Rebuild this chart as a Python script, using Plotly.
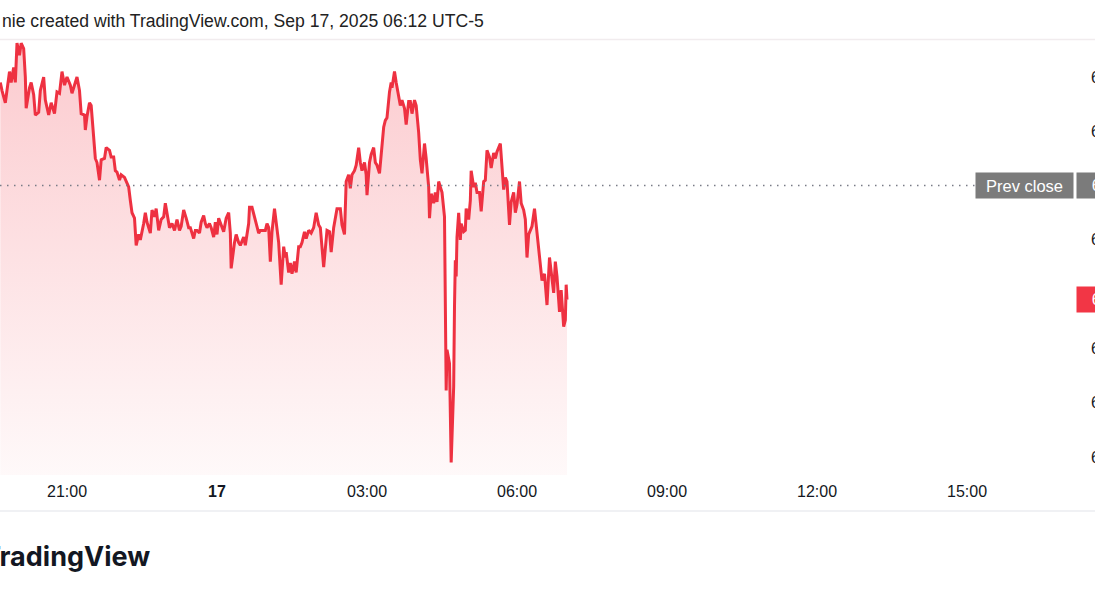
import pandas as pd
import plotly.graph_objects as go

# ---------------- data ----------------
session_start = "2025-09-16 19:40"
elapsed_min = [
    0, 2, 6, 8, 11, 13, 16, 18, 20, 23,
    25, 28, 30, 31, 35, 37, 40, 42, 46, 48,
    52, 54, 58, 61, 65, 68, 71, 74, 77, 80,
    84, 86, 89, 92, 95, 97, 101, 102, 104, 107,
    109, 112, 114, 116, 119, 121, 125, 127, 131, 133,
    136, 138, 140, 143, 145, 149, 151, 154, 156, 158,
    161, 163, 166, 168, 172, 174, 176, 180, 182, 185,
    187, 190, 193, 196, 198, 200, 203, 206, 209, 212,
    215, 217, 220, 223, 226, 228, 232, 234, 236, 239,
    241, 244, 246, 248, 251, 253, 256, 258, 260, 262,
    265, 268, 271, 274, 276, 277, 281, 283, 286, 288,
    292, 294, 298, 299, 302, 305, 307, 310, 312, 316,
    318, 320, 322, 324, 326, 329, 331, 334, 337, 340,
    342, 343, 346, 348, 350, 353, 355, 358, 360, 362,
    365, 367, 370, 373, 376, 379, 382, 384, 388, 390,
    392, 395, 397, 400, 402, 404, 408, 410, 413, 415,
    418, 420, 422, 425, 427, 430, 432, 434, 437, 439,
    440, 443, 445, 448, 450, 452, 455, 457, 460, 462,
    464, 467, 469, 470, 473, 475, 478, 480, 482, 485,
    487, 490, 492, 494, 497, 499, 502, 504, 506, 509,
    511, 514, 515, 517, 520, 522, 524, 526, 528, 530,
    533, 534, 535, 536, 539, 541, 544, 545, 546, 547,
    548, 550, 552, 553, 556, 558, 559, 562, 564, 565,
    568, 570, 572, 575, 577, 580, 582, 584, 587, 589,
    592, 594, 596, 600, 602, 604, 606, 608, 611, 613,
    616, 618, 620, 623, 625, 628, 630, 632, 634, 636,
    638, 641, 643, 646, 648, 650, 653, 655, 656, 659,
    661, 664, 666, 668, 671, 673, 676, 678, 679, 680,
]
prices = [
    6719.00, 6717.50, 6715.25, 6718.00, 6721.00, 6719.00, 6721.75, 6719.00, 6726.25, 6724.00,
    6726.25, 6725.25, 6720.00, 6714.25, 6718.00, 6719.00, 6716.75, 6713.00, 6713.50, 6717.50,
    6720.00, 6715.75, 6713.00, 6715.25, 6713.25, 6717.25, 6717.00, 6721.00, 6718.50, 6720.00,
    6718.50, 6717.00, 6718.75, 6720.00, 6717.50, 6713.25, 6713.00, 6710.25, 6712.75, 6715.25,
    6714.75, 6709.75, 6705.00, 6704.25, 6701.00, 6704.75, 6705.00, 6707.00, 6706.50, 6705.25,
    6705.25, 6702.75, 6702.50, 6701.00, 6702.00, 6701.50, 6700.75, 6699.75, 6697.25, 6695.00,
    6694.00, 6689.00, 6691.00, 6690.00, 6693.00, 6695.00, 6693.25, 6691.25, 6695.50, 6694.25,
    6695.75, 6691.75, 6693.75, 6694.25, 6696.75, 6695.00, 6692.25, 6693.00, 6691.75, 6693.75,
    6691.75, 6692.50, 6695.50, 6694.00, 6692.25, 6692.25, 6690.25, 6691.75, 6691.75, 6691.25,
    6693.25, 6694.50, 6693.00, 6692.25, 6693.00, 6692.25, 6690.50, 6693.25, 6691.00, 6694.00,
    6692.75, 6691.50, 6694.00, 6695.00, 6691.25, 6684.75, 6689.50, 6691.00, 6689.50, 6689.00,
    6690.50, 6689.00, 6693.00, 6696.00, 6696.00, 6694.00, 6693.25, 6691.25, 6691.75, 6691.75,
    6691.75, 6693.00, 6692.25, 6686.00, 6691.50, 6695.75, 6692.75, 6689.50, 6681.75, 6688.75,
    6686.75, 6687.75, 6684.00, 6685.75, 6683.75, 6686.00, 6684.00, 6688.75, 6688.75, 6689.50,
    6691.50, 6690.25, 6691.75, 6691.25, 6692.25, 6695.00, 6692.75, 6692.25, 6685.00, 6688.50,
    6691.75, 6691.50, 6687.75, 6692.25, 6694.50, 6695.75, 6695.75, 6692.75, 6691.00, 6700.75,
    6702.00, 6699.50, 6702.00, 6702.75, 6703.75, 6707.00, 6704.25, 6702.75, 6704.25, 6702.00,
    6698.25, 6704.25, 6705.75, 6707.00, 6704.25, 6703.75, 6702.25, 6706.25, 6710.75, 6712.00,
    6712.50, 6717.25, 6719.00, 6718.00, 6721.00, 6719.00, 6716.25, 6714.75, 6715.75, 6714.25,
    6711.25, 6715.50, 6715.50, 6713.25, 6715.75, 6714.75, 6709.75, 6704.75, 6702.25, 6707.75,
    6705.00, 6699.75, 6694.00, 6698.50, 6696.75, 6698.75, 6697.00, 6700.75, 6699.75, 6698.75,
    6694.25, 6675.25, 6662.25, 6669.75, 6667.25, 6649.00, 6663.00, 6677.75, 6686.25, 6683.25,
    6690.50, 6695.00, 6690.00, 6693.00, 6691.50, 6691.75, 6695.75, 6693.75, 6697.25, 6702.75,
    6699.75, 6700.50, 6698.75, 6698.75, 6695.25, 6700.75, 6701.00, 6706.50, 6705.25, 6703.25,
    6706.00, 6705.00, 6706.25, 6707.75, 6702.75, 6699.25, 6701.50, 6700.75, 6692.75, 6697.00,
    6698.75, 6695.00, 6696.50, 6700.75, 6696.75, 6695.50, 6693.75, 6686.75, 6691.00, 6691.75,
    6692.50, 6695.75, 6692.50, 6688.75, 6685.75, 6682.50, 6683.75, 6680.75, 6678.00, 6686.75,
    6684.50, 6680.25, 6686.00, 6683.25, 6676.75, 6680.75, 6674.00, 6675.25, 6681.75, 6679.00,
]
prev_close = 6700.00
price_ticks = [6650, 6660, 6670, 6690, 6710, 6720]
time_ticks = ["2025-09-16 21:00", "2025-09-17 00:00", "2025-09-17 03:00",
              "2025-09-17 06:00", "2025-09-17 09:00", "2025-09-17 12:00",
              "2025-09-17 15:00"]
time_labels = ["21:00", "<b>17</b>", "03:00", "06:00", "09:00", "12:00", "15:00"]
header_text = "nie created with TradingView.com, Sep 17, 2025 06:12 UTC-5"
footer_text = "TradingView"

# ---------------- layout constants ----------------
W, H = 1095, 600
ML, MR, MT, MB = 0, 20, 40, 125
PW = W - ML - MR          # plot width in px
PH = H - MT - MB          # plot height in px
Y_RANGE = [6646.69, 6726.82]
X_RANGE = ["2025-09-16 19:39:36", "2025-09-17 17:09:36"]
RED = "#f23645"
GREY = "#7b7b7b"
TXT = "#131722"
FONT = "Liberation Sans, Arial, sans-serif"

def px_x(p):
    return (p - ML) / PW

def px_y(p):
    return 1 - (p - MT) / PH

times = pd.Timestamp(session_start) + pd.to_timedelta(elapsed_min, unit="min")
last_price = prices[-1]

fig = go.Figure()
# baseline for gradient fill
fig.add_trace(go.Scatter(x=times, y=[Y_RANGE[0]] * len(times), mode="lines",
                         line=dict(width=0, color="rgba(0,0,0,0)"),
                         hoverinfo="skip", showlegend=False))
fig.add_trace(go.Scatter(
    x=times, y=prices, mode="lines",
    line=dict(color="#ee3141", width=3),
    fill="tonexty",
    fillgradient=dict(type="vertical", start=Y_RANGE[0], stop=max(prices),
                      colorscale=[[0, "rgba(242,54,69,0.03)"],
                                  [1, "rgba(242,54,69,0.26)"]]),
    showlegend=False,
))

shapes = [
    # previous close dotted line
    dict(type="line", xref="paper", yref="y", x0=0, x1=px_x(977), y0=prev_close, y1=prev_close,
         line=dict(color="#787b86", width=1.5, dash="1.5px,5.5px")),
    # top separator
    dict(type="line", xref="paper", yref="paper", x0=0, x1=W / PW, y0=px_y(39.5), y1=px_y(39.5),
         line=dict(color="#f1ecee", width=1.5)),
    # bottom separator
    dict(type="line", xref="paper", yref="paper", x0=0, x1=W / PW, y0=px_y(511), y1=px_y(511),
         line=dict(color="#f0f1f4", width=2)),
]

annotations = [
    dict(text=header_text, xref="paper", yref="paper", x=px_x(0), y=px_y(21),
         xanchor="left", yanchor="middle", showarrow=False,
         font=dict(family=FONT, size=17.6, color="#222222")),
    dict(text=f"<b>{footer_text}</b>", xref="paper", yref="paper", x=px_x(152), y=px_y(556),
         xanchor="right", yanchor="middle", showarrow=False,
         font=dict(family="Inter, sans-serif", size=27, color="#131722")),
    dict(text="Prev close", xref="paper", yref="y", x=px_x(1074), y=prev_close,
         xanchor="right", yanchor="middle", showarrow=False, width=97, height=25,
         bgcolor=GREY, borderpad=0, font=dict(family=FONT, size=16.5, color="white")),
    dict(text=f"{prev_close:,.2f}", xref="paper", yref="y", x=px_x(1076), y=prev_close,
         xanchor="left", yanchor="middle", showarrow=False, width=92, height=25,
         bgcolor=GREY, borderpad=0, font=dict(family=FONT, size=16, color="white")),
    dict(text=f"{last_price:,.2f}", xref="paper", yref="y", x=px_x(1076), y=last_price,
         xanchor="left", yanchor="middle", showarrow=False, width=92, height=25,
         bgcolor=RED, borderpad=0, font=dict(family=FONT, size=16, color="white")),
]

fig.update_layout(
    width=W, height=H,
    margin=dict(l=ML, r=MR, t=MT, b=MB, autoexpand=False),
    paper_bgcolor="white", plot_bgcolor="white",
    hovermode=False,
    shapes=shapes, annotations=annotations,
    xaxis=dict(range=X_RANGE, tickvals=time_ticks, ticktext=time_labels,
               showgrid=False, zeroline=False, showline=False, ticks="",
               ticklabelstandoff=5, automargin=False,
               tickfont=dict(family=FONT, size=16, color=TXT)),
    yaxis=dict(range=Y_RANGE, side="right", tickvals=price_ticks,
               ticktext=[f"{v:,.2f}" for v in price_ticks],
               showgrid=False, zeroline=False, showline=False, ticks="",
               ticklabelstandoff=15, automargin=False,
               tickfont=dict(family=FONT, size=16, color=TXT)),
)

fig.write_html("out.html", config={"displayModeBar": False},
               post_script="document.body.style.margin='0';")
